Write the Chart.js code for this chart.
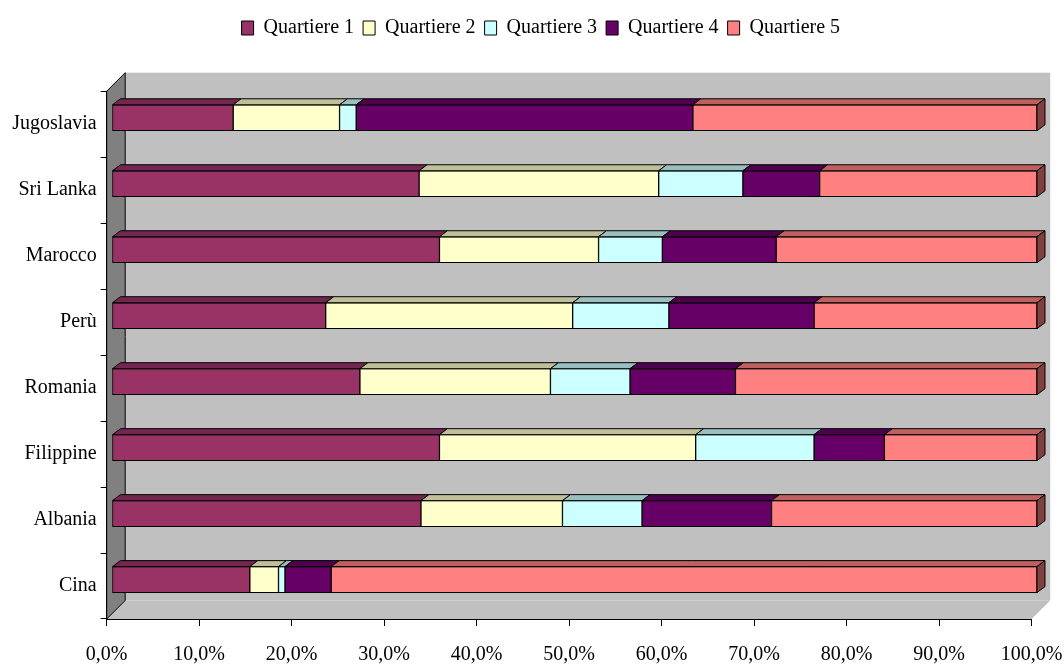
<!DOCTYPE html>
<html>
<head>
<meta charset="utf-8">
<script src="https://cdn.jsdelivr.net/npm/chart.js@4/dist/chart.umd.min.js"></script>
<style>
  html, body { margin: 0; padding: 0; background: #fff; }
  canvas { display: block; }
</style>
</head>
<body>
<canvas id="quartieri" width="1064" height="664"></canvas>
<script>
const categories = ['Jugoslavia', 'Sri Lanka', 'Marocco', 'Perù', 'Romania', 'Filippine', 'Albania', 'Cina'];
const seriesNames = ['Quartiere 1', 'Quartiere 2', 'Quartiere 3', 'Quartiere 4', 'Quartiere 5'];
const quartiere1 = [13.1, 33.2, 35.4, 23.1, 26.8, 35.4, 33.4, 14.9];
const quartiere2 = [11.5, 25.9, 17.2, 26.7, 20.6, 27.7, 15.3, 3.1];
const quartiere3 = [1.8, 9.1, 6.9, 10.4, 8.6, 12.8, 8.6, 0.7];
const quartiere4 = [36.4, 8.3, 12.3, 15.7, 11.4, 7.6, 14.0, 5.0];
const quartiere5 = [37.2, 23.5, 28.2, 24.1, 32.6, 16.5, 28.7, 76.3];
const xTicks = [0, 10, 20, 30, 40, 50, 60, 70, 80, 90, 100];

// colours (front face / top face)
const fronts = ['#993366', '#ffffcc', '#ccffff', '#660066', '#ff8080'];
const tops = ['#732650', '#bfbf99', '#99bfbf', '#4d004d', '#bf6060'];
const endColor = '#804040';

const WALL = 18.5;      // depth of the 3d box
const SHIFT_X = 5.3;    // bars sit a bit back in the box
const SHIFT_Y = -6.4;
const BAR_DX = 8;       // bar depth
const BAR_DY = 6;
const LEGEND_SHIFT = 25;

function poly(ctx, pts) {
    ctx.beginPath();
    ctx.moveTo(pts[0][0], pts[0][1]);
    for (let i = 1; i < pts.length; i++) ctx.lineTo(pts[i][0], pts[i][1]);
    ctx.closePath();
}

const box3d = {
    id: 'box3d',
    afterLayout(chart) {
        // legend in the original is centred over the plot, not the page
        chart.legend.left += LEGEND_SHIFT;
        chart.legend.right += LEGEND_SHIFT;
    },
    beforeDraw(chart) {
        const {ctx, chartArea: a} = chart;
        ctx.save();
        ctx.fillStyle = '#c0c0c0';
        ctx.fillRect(a.left + WALL, a.top - WALL, a.right - a.left, a.bottom - a.top);
        poly(ctx, [[a.left, a.bottom], [a.right, a.bottom], [a.right + WALL, a.bottom - WALL], [a.left + WALL, a.bottom - WALL]]);
        ctx.fill();
        ctx.fillStyle = '#808080';
        ctx.strokeStyle = '#000';
        ctx.lineWidth = 1;
        poly(ctx, [[a.left, a.top], [a.left + WALL, a.top - WALL], [a.left + WALL, a.bottom - WALL], [a.left, a.bottom]]);
        ctx.fill();
        ctx.stroke();
        ctx.restore();
    },
    beforeDatasetsDraw(chart) {
        chart.ctx.save();
        chart.ctx.translate(SHIFT_X, SHIFT_Y);
    },
    afterDatasetsDraw(chart) {
        const ctx = chart.ctx;
        const last = chart.data.datasets.length - 1;
        ctx.lineWidth = 1;
        ctx.strokeStyle = '#000';
        chart.data.datasets.forEach((ds, i) => {
            chart.getDatasetMeta(i).data.forEach((bar) => {
                const p = bar.getProps(['x', 'y', 'base', 'height'], true);
                const l = Math.min(p.x, p.base), r = Math.max(p.x, p.base);
                const t = p.y - p.height / 2, b = p.y + p.height / 2;
                poly(ctx, [[l, t], [r, t], [r + BAR_DX, t - BAR_DY], [l + BAR_DX, t - BAR_DY]]);
                ctx.fillStyle = tops[i];
                ctx.fill();
                ctx.stroke();
                if (i === last) {
                    poly(ctx, [[r, t], [r + BAR_DX, t - BAR_DY], [r + BAR_DX, b - BAR_DY], [r, b]]);
                    ctx.fillStyle = endColor;
                    ctx.fill();
                    ctx.stroke();
                }
            });
        });
        ctx.restore();
    }
};

const values = [quartiere1, quartiere2, quartiere3, quartiere4, quartiere5];

new Chart(document.getElementById('quartieri'), {
    type: 'bar',
    data: {
        labels: categories,
        datasets: values.map((v, i) => ({
            label: seriesNames[i],
            data: v,
            backgroundColor: fronts[i],
            borderColor: '#000',
            borderWidth: 1,
            borderSkipped: false,
            barThickness: 26,
            clip: false
        }))
    },
    options: {
        indexAxis: 'y',
        responsive: false,
        animation: false,
        layout: { padding: { top: 9, right: 32.3, left: 0, bottom: 0 } },
        plugins: {
            legend: {
                position: 'top',
                weight: 3000,
                labels: {
                    color: '#000',
                    boxWidth: 12,
                    boxHeight: 14,
                    padding: 9,
                    font: { family: 'Liberation Serif', size: 20 }
                }
            },
            title: {
                display: true,
                text: ' ',
                font: { size: 1 },
                padding: { top: 42, bottom: 0 }
            },
            tooltip: { enabled: false }
        },
        scales: {
            x: {
                stacked: true,
                min: 0,
                max: 100,
                afterBuildTicks: (scale) => { scale.ticks = xTicks.map(v => ({ value: v })); },
                afterFit: (scale) => {
                    scale.height = 45;
                    scale.paddingLeft = 0;
                    scale.paddingRight = 0;
                },
                grid: { drawOnChartArea: false, tickLength: 7, color: '#000' },
                border: { color: '#000' },
                ticks: {
                    color: '#000',
                    padding: 17,
                    maxRotation: 0,
                    font: { family: 'Liberation Serif', size: 20 },
                    callback: (v) => v.toFixed(1).replace('.', ',') + '%'
                }
            },
            y: {
                stacked: true,
                afterFit: (scale) => { scale.width = 106.7; },
                grid: { drawOnChartArea: false, tickLength: 6, color: '#000', offset: true },
                border: { color: '#000' },
                ticks: {
                    color: '#000',
                    padding: 4,
                    font: { family: 'Liberation Serif', size: 20 }
                }
            }
        }
    },
    plugins: [box3d]
});
</script>
</body>
</html>
